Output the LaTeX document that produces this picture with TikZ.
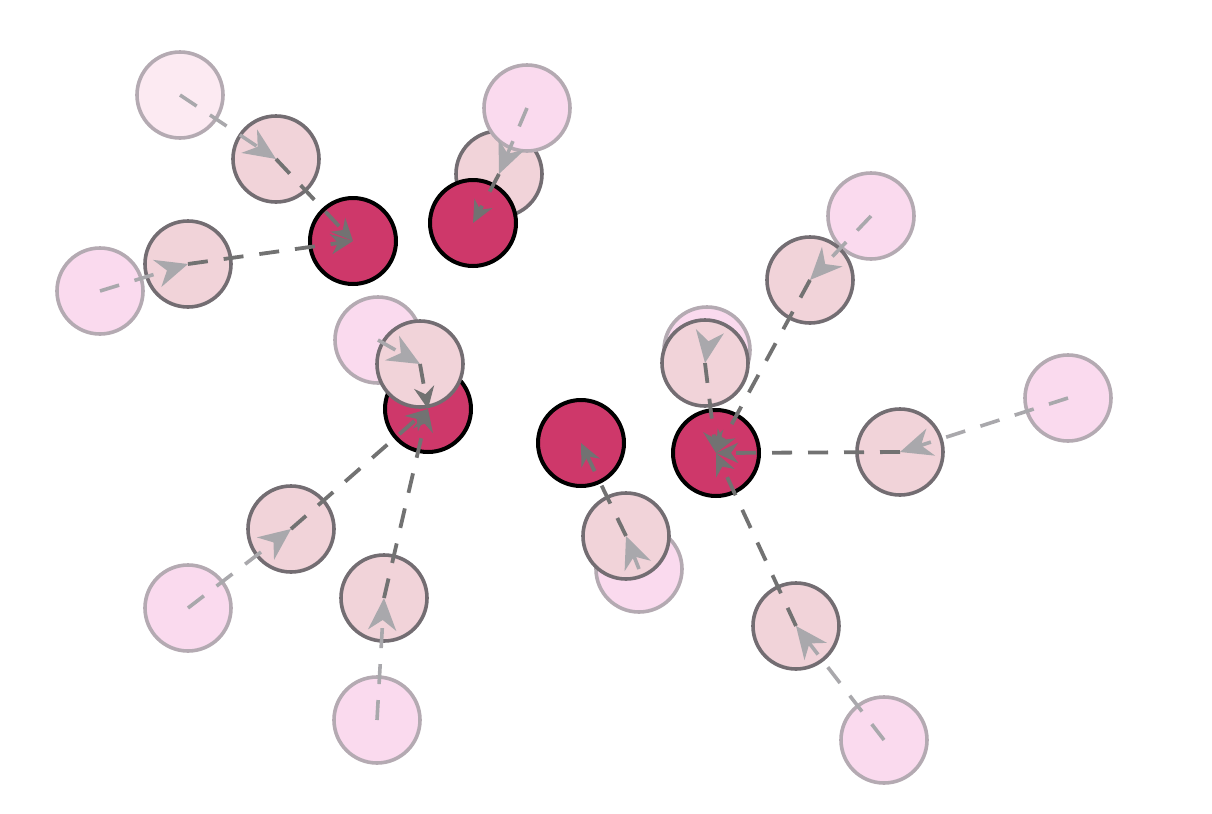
\documentclass[tikz,border=0pt]{standalone}
\usetikzlibrary{arrows.meta}
\definecolor{darkfill}{HTML}{CE386A}
\definecolor{midfill}{HTML}{F1D3D9}
\definecolor{midborder}{HTML}{736D72}
\definecolor{lightfill}{HTML}{FADAEE}
\definecolor{lightfillb}{HTML}{FCEAF2}
\definecolor{lightborder}{HTML}{B4AAB2}
\definecolor{lightarrow}{HTML}{A9A8AC}
\definecolor{darkarrow}{HTML}{727272}
\tikzset{
  dnode/.style={circle, minimum size=43pt, inner sep=0pt, draw=black, line width=2pt, fill=darkfill},
  mnode/.style={circle, minimum size=43pt, inner sep=0pt, draw=midborder, line width=1.8pt, fill=midfill},
  lnode/.style={circle, minimum size=43pt, inner sep=0pt, draw=lightborder, line width=1.8pt, fill=lightfill},
  larrow/.style={draw=lightarrow, line width=1.8pt, dash pattern=on 10pt off 8pt,
     -{Stealth[length=16pt, width=14pt, inset=5pt, fill=lightarrow]}},
  darrow/.style={draw=darkarrow, line width=1.9pt, dash pattern=on 10pt off 8pt,
     -{Stealth[length=11pt, width=10pt, inset=3.5pt, fill=darkarrow]}}
}
\begin{document}
\begin{tikzpicture}[x=0.5pt, y=-0.5pt]
\useasboundingbox (0,0) rectangle (1212,814);
\fill[white] (0,0) rectangle (1212,814);
% light nodes (except L3)
\node[lnode, fill=lightfillb] (L1) at (180,95) {};
\node[lnode] (L2) at (100,291) {};
\node[lnode] (L4) at (378,340) {};
\node[lnode] (L5) at (188,608) {};
\node[lnode] (L6) at (377,720) {};
\node[lnode] (L7) at (639,569) {};
\node[lnode] (L8) at (707,350) {};
\node[lnode] (L9) at (871,216) {};
\node[lnode] (L10) at (1068,398) {};
\node[lnode] (L11) at (884,740) {};
% medium nodes (except M4)
\node[mnode] (M1) at (276,159) {};
\node[mnode] (M2) at (188,264) {};
\node[mnode] (M3) at (499,174) {};
\node[mnode] (M5) at (291,529) {};
\node[mnode] (M6) at (384,598) {};
\node[mnode] (M7) at (626,536) {};
\node[mnode] (M8) at (705,363) {};
\node[mnode] (M9) at (810,280) {};
\node[mnode] (M10) at (900,452) {};
\node[mnode] (M11) at (796,626) {};
\node[lnode] (L3) at (527,108) {};
% dark nodes
\node[dnode] (D1) at (353,241) {};
\node[dnode] (D2) at (473,223) {};
\node[dnode] (D3) at (428,409) {};
\node[dnode] (D4) at (581,443) {};
\node[dnode] (D5) at (716,453) {};
\node[mnode] (M4) at (420,364) {};
% light arrows
\draw[larrow] (L1.center) -- (M1.center);
\draw[larrow] (L2.center) -- (M2.center);
\draw[larrow] (L3.center) -- (M3.center);
\draw[larrow] (L4.center) -- (M4.center);
\draw[larrow] (L5.center) -- (M5.center);
\draw[larrow] (L6.center) -- (M6.center);
\draw[larrow] (L7.center) -- (M7.center);
\draw[larrow] (L8.center) -- (M8.center);
\draw[larrow] (L9.center) -- (M9.center);
\draw[larrow] (L10.center) -- (M10.center);
\draw[larrow] (L11.center) -- (M11.center);
% dark arrows
\draw[darrow] (M1.center) -- (D1.center);
\draw[darrow] (M2.center) -- (D1.center);
\draw[darrow] (M3.center) -- (D2.center);
\draw[darrow] (M4.center) -- (D3.center);
\draw[darrow] (M5.center) -- (D3.center);
\draw[darrow] (M6.center) -- (D3.center);
\draw[darrow] (M7.center) -- (D4.center);
\draw[darrow] (M8.center) -- (D5.center);
\draw[darrow] (M9.center) -- (D5.center);
\draw[darrow] (M10.center) -- (D5.center);
\draw[darrow] (M11.center) -- (D5.center);
\end{tikzpicture}
\end{document}
